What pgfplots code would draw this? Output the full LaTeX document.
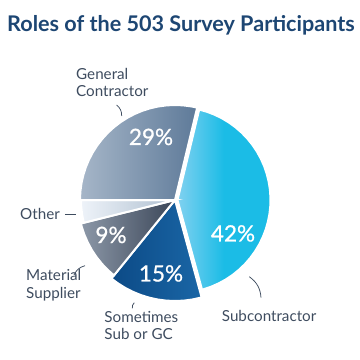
\documentclass[border=0pt]{standalone}
\usepackage{pgfplots}
\pgfplotsset{compat=1.18}
\usepgfplotslibrary{polar}
\usepackage{fontspec}
\setmainfont{Lato}
\newfontfamily\latomed[FakeBold=0.8]{Lato}
\definecolor{titlec}{HTML}{1D4673}
\definecolor{labc}{HTML}{3E4C5F}
\definecolor{gcL}{HTML}{A6B6C8}
\definecolor{gcR}{HTML}{5E7A99}
\definecolor{subL}{HTML}{80D1F0}
\definecolor{subR}{HTML}{1BBCE6}
\definecolor{smL}{HTML}{0C4A86}
\definecolor{smR}{HTML}{1A66A6}
\definecolor{maL}{HTML}{8C98A8}
\definecolor{maR}{HTML}{3B4658}
\definecolor{otL}{HTML}{EEF3F9}
\definecolor{otR}{HTML}{AFBFD0}
\begin{document}
\begin{tikzpicture}[x=1pt,y=1pt]
\path (0,0) rectangle (360,360);
\begin{polaraxis}[
  at={(175pt,160pt)}, anchor=center,
  width=200pt, height=200pt, scale only axis,
  xmin=0, xmax=360, ymin=0, ymax=100,
  hide axis, clip=false,
]
% Subcontractor 42%
\addplot[draw=white, line width=2pt, left color=subL, right color=subR, middle color=subR, xshift=2.5pt] coordinates {
(0,0) (76.5,93) (71.5,93) (66.5,93) (61.5,93) (56.5,93) (51.5,93) (46.5,93) (41.5,93) (36.5,93) (31.5,93) (26.5,93) (21.5,93) (16.5,93) (11.5,93) (6.5,93) (1.5,93) (356.5,93) (351.5,93) (346.5,93) (341.5,93) (336.5,93) (331.5,93) (326.5,93) (321.5,93) (316.5,93) (311.5,93) (306.5,93) (301.5,93) (296.5,93) (291.5,93) (286.5,93) (285.3,93)
} -- cycle;
% Sometimes Sub or GC 15%
\addplot[draw=white, line width=2pt, left color=smL, right color=smR] coordinates {
(0,0) (285.3,101) (280,101) (275,101) (270,101) (265,101) (260,101) (255,101) (250,101) (245,101) (240,101) (235,101) (231,101)
} -- cycle;
% Material Supplier 9%
\addplot[draw=white, line width=2pt, left color=maL, right color=maR] coordinates {
(0,0) (231,97) (226,97) (221,97) (216,97) (211,97) (206,97) (201,97) (196,97) (194,97)
} -- cycle;
% Other
\addplot[draw=white, line width=2pt, left color=otL, right color=otR] coordinates {
(0,0) (194,94) (189,94) (184,94) (180,94)
} -- cycle;
% General Contractor 29%
\addplot[draw=white, line width=2pt, left color=gcL, right color=gcR] coordinates {
(0,0) (180,95) (175,95) (170,95) (165,95) (160,95) (155,95) (150,95) (145,95) (140,95) (135,95) (130,95) (125,95) (120,95) (115,95) (110,95) (105,95) (100,95) (95,95) (90,95) (85,95) (80,95) (76.5,95)
} -- cycle;
\end{polaraxis}
% title
\node[anchor=base, inner sep=0, text=titlec, font=\bfseries\fontsize{21.6}{25}\selectfont] at (181,329) {Roles of the 503 Survey Participants};
% percentages
\begin{scope}[every node/.style={anchor=base, inner sep=0, text=white, font=\latomed\fontsize{22.5}{26}\selectfont}]
\node at (151,215) {29\%};
\node at (233,118.5) {42\%};
\node at (161,78.5) {15\%};
\node at (111,117) {9\%};
\end{scope}
% category labels
\begin{scope}[every node/.style={anchor=base west, inner sep=0, text=labc, font=\fontsize{15.2}{18}\selectfont}]
\node at (76,280.7) {General};
\node at (76,263.3) {Contractor};
\node at (20,140.7) {Other};
\node at (26,79) {Material};
\node at (26,61.7) {Supplier};
\node at (104.3,37.7) {Sometimes};
\node at (104.3,20.7) {Sub or GC};
\node at (221.7,38.3) {Subcontractor};
\end{scope}
% leader lines
\begin{scope}[labc, line width=0.75pt]
\draw (116.7,255) to[bend left=25] (121.7,244);
\draw (65,145.7) -- (76,145.7);
\draw (74,85) to[bend left=25] (85,94.3);
\draw (134.3,57.3) to[bend right=25] (132.3,51.7);
\draw (249.3,83.3) to[bend left=25] (261,62.3);
\end{scope}
\end{tikzpicture}
\end{document}
